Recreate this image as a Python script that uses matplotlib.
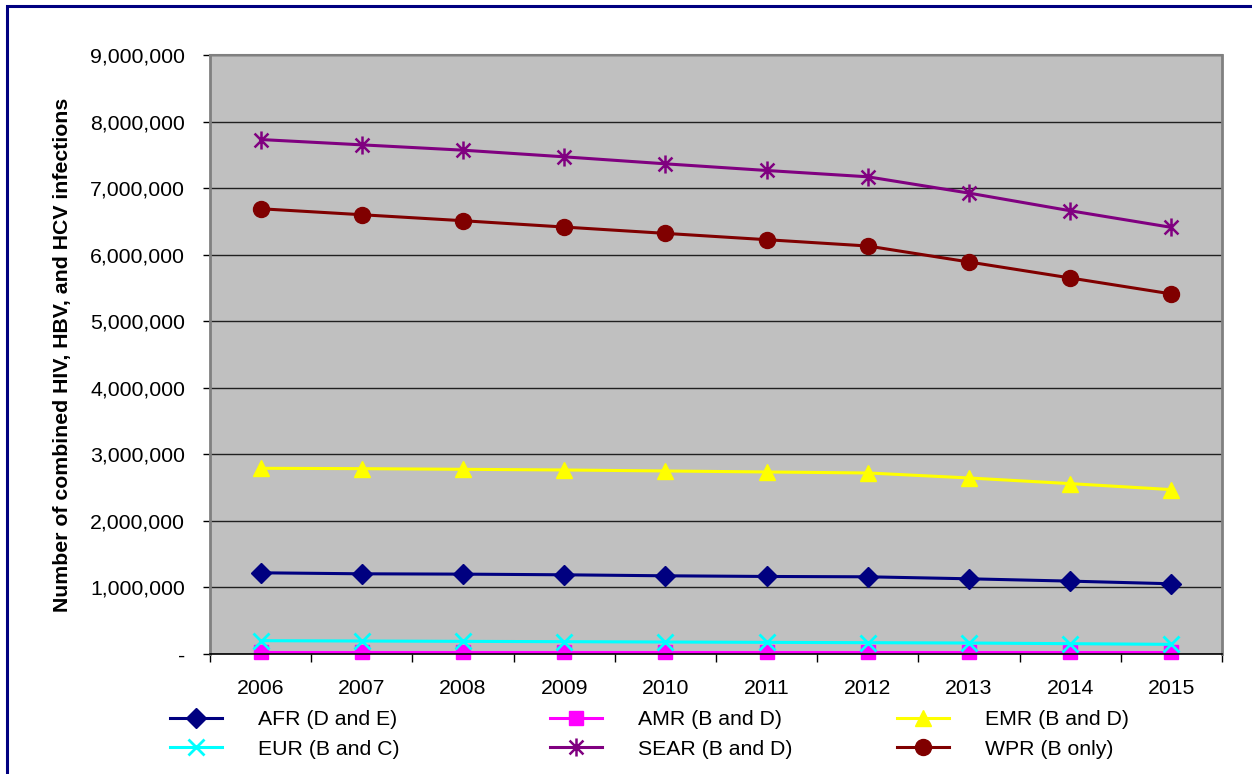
import matplotlib.pyplot as plt
import numpy as np
from matplotlib.patches import Rectangle
from matplotlib.path import Path
from matplotlib.ticker import FuncFormatter

plt.rcParams['font.family'] = ['Liberation Sans', 'DejaVu Sans']

years = ['2006', '2007', '2008', '2009', '2010', '2011', '2012', '2013', '2014', '2015']

afr = [1220000, 1205000, 1200000, 1190000, 1175000, 1165000, 1160000, 1130000, 1095000, 1055000]
amr = [30000, 30000, 30000, 30000, 30000, 30000, 30000, 30000, 30000, 30000]
emr = [2790000, 2785000, 2775000, 2765000, 2750000, 2735000, 2720000, 2645000, 2560000, 2470000]
eur = [200000, 195000, 190000, 185000, 180000, 175000, 170000, 165000, 155000, 145000]
sear = [7730000, 7650000, 7570000, 7470000, 7365000, 7265000, 7170000, 6925000, 6660000, 6410000]
wpr = [6690000, 6600000, 6510000, 6415000, 6320000, 6225000, 6130000, 5890000, 5650000, 5410000]

labels = ['AFR (D and E)', 'AMR (B and D)', 'EMR (B and D)',
          'EUR (B and C)', 'SEAR (B and D)', 'WPR (B only)']

FS = 15.3

# star marker: an x with a vertical bar through it
star = Path([(-1, -1), (1, 1), (-1, 1), (1, -1), (0, -1.3), (0, 1.3)],
            [Path.MOVETO, Path.LINETO, Path.MOVETO, Path.LINETO, Path.MOVETO, Path.LINETO])

series = [
    (afr, '#000080', 'D', 10, None),
    (amr, '#FF00FF', 's', 10, None),
    (emr, '#FFFF00', '^', 11, None),
    (eur, '#00FFFF', 'x', 11, 2.0),
    (sear, '#800080', star, 13, 1.8),
    (wpr, '#800000', 'o', 11.5, None),
]

fig = plt.figure(figsize=(12.52, 7.74), dpi=100)
ax = fig.add_axes([210 / 1252, 1 - 654 / 774, 1012 / 1252, 599 / 774])
ax.set_facecolor('#C0C0C0')

x = np.arange(len(years))
handles = []
for (vals, col, mk, ms, mew), lab in zip(series, labels):
    kw = dict(color=col, marker=mk, markersize=ms, linewidth=2.2,
              markerfacecolor=col, markeredgecolor=col, clip_on=False, label=lab)
    if mew:
        kw['markeredgewidth'] = mew
    h, = ax.plot(x, vals, **kw)
    handles.append(h)

ax.set_xlim(-0.5, 9.5)
ax.set_ylim(0, 9000000)
ax.set_yticks(np.arange(0, 9000001, 1000000))
ax.yaxis.set_major_formatter(FuncFormatter(lambda v, p: '-' if v == 0 else f'{int(v):,}'))
ax.set_xticks(x)
ax.set_xticklabels(years)
ax.set_xticks(np.arange(-0.5, 10, 1), minor=True)
ax.tick_params(axis='x', which='major', length=0, pad=18, labelsize=FS)
ax.tick_params(axis='x', which='minor', length=6, width=1, color='black', direction='out')
ax.tick_params(axis='y', length=5, width=1, color='black', direction='out', pad=13, labelsize=FS)
ax.grid(axis='y', color='#202020', linewidth=1)
ax.set_axisbelow(True)

for side in ['left', 'right']:
    ax.spines[side].set_color('#808080')
    ax.spines[side].set_linewidth(2)
ax.spines['top'].set_color('#808080')
ax.spines['top'].set_linewidth(1.5)
ax.spines['bottom'].set_color('black')
ax.spines['bottom'].set_linewidth(1.2)

fig.text(63 / 1252, 1 - 355 / 774, 'Number of combined HIV, HBV, and HCV infections',
         rotation=90, ha='center', va='center', fontsize=FS, fontweight='bold')

# three legend columns, two entries each
cols = [(handles[0], handles[3]), (handles[1], handles[4]), (handles[2], handles[5])]
xpos = [170, 550, 897]
for hs, xp in zip(cols, xpos):
    fig.legend(list(hs), [h.get_label() for h in hs], loc='upper left',
               bbox_to_anchor=(xp / 1252, 1 - 710 / 774), frameon=False,
               fontsize=FS, handlelength=2.45, handletextpad=1.7,
               labelspacing=0.5, borderaxespad=0, borderpad=0)

# outer frame of the chart area
fig.patches.append(Rectangle((7 / 1252, -0.1), 1.2, 1.1 - 6 / 774,
                             transform=fig.transFigure, fill=False,
                             edgecolor='#000080', linewidth=2.2))

fig.savefig('out.png', dpi=100)
